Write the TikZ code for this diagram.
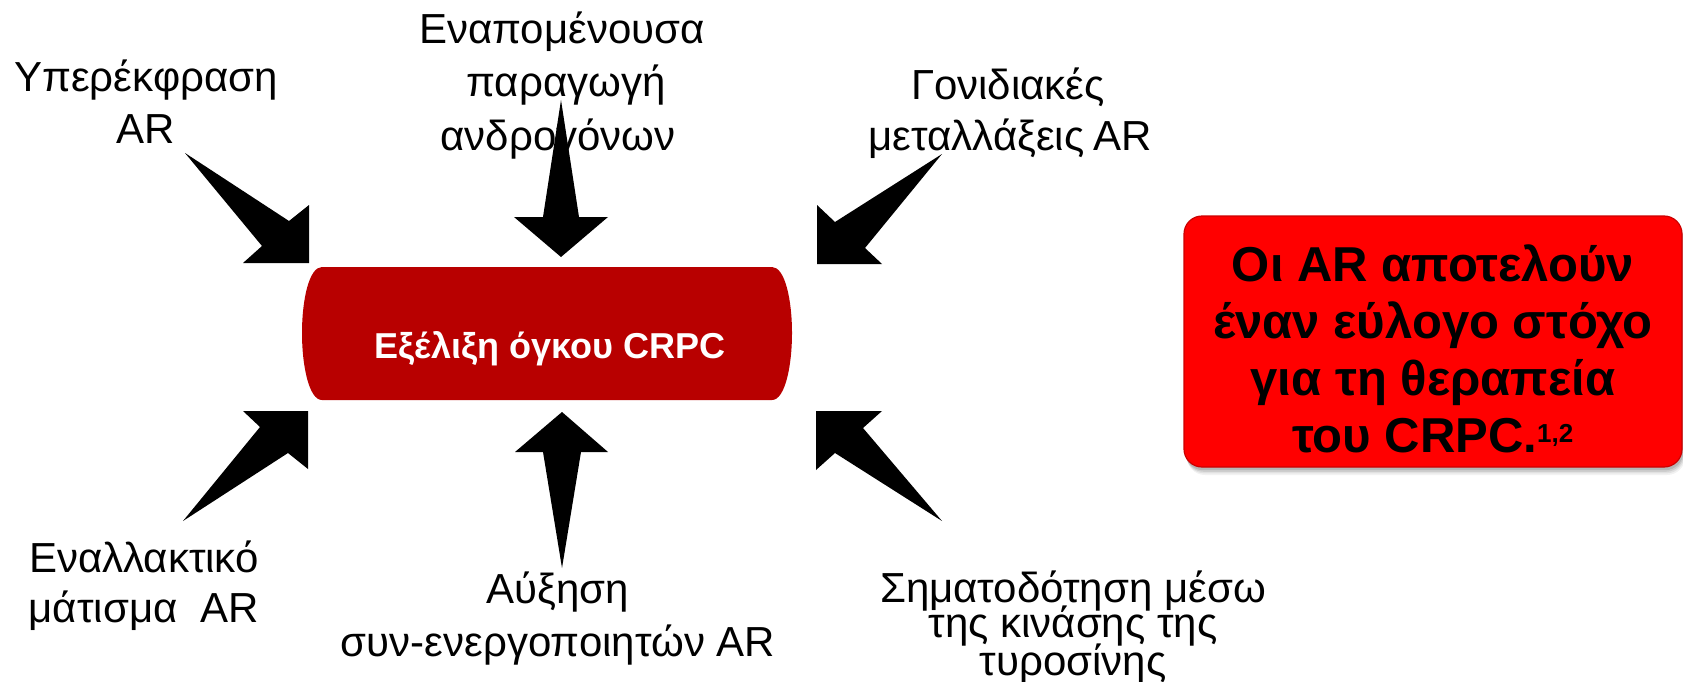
\documentclass[tikz,border=0pt]{standalone}
\usepackage{fontspec}
\setmainfont{Liberation Sans}
\definecolor{coreRed}{RGB}{184,0,0}
\definecolor{boxRed}{RGB}{255,0,0}
\begin{document}
\begin{tikzpicture}[x=1pt,y=-1pt,
  lbl/.style={anchor=base,inner sep=0pt,font=\fontsize{42}{50}\selectfont},
  boxtxt/.style={anchor=base,inner sep=0pt,font=\bfseries\fontsize{49}{57}\selectfont},
  bigarrow/.style={fill=black}]
\useasboundingbox (0,0) rectangle (1683,682);

% labels
\node[lbl] (l1a) at (146,92) {Υπερέκφραση};
\node[lbl] (l1b) at (146,143) {AR};
\node[lbl] (l2a) at (562,44) {Εναπομένουσα};
\node[lbl] (l2b) at (566,97) {παραγωγή};
\node[lbl] (l2c) at (558,150) {ανδρογόνων};
\node[lbl] (l3a) at (1008,100) {Γονιδιακές};
\node[lbl] (l3b) at (1010,150) {μεταλλάξεις\kern-3pt\ AR};
\node[lbl] (l4a) at (144,572) {Εναλλακτικό};
\node[lbl] (l4b) at (144,622) {μάτισμα~ AR};
\node[lbl] (l5a) at (558,603) {Αύξηση};
\node[lbl] (l5b) at (558,656) {συν-ενεργοποιητών AR};
\node[lbl] (l6a) at (1073,602) {Σηματοδότηση μέσω};
\node[lbl] (l6b) at (1073,637) {της κινάσης της};
\node[lbl] (l6c) at (1073,675) {τυροσίνης};

% central box
\fill[coreRed] (322,267) -- (772,267)
  .. controls (785,267) and (792,300) .. (792,333)
  .. controls (792,366) and (785,400) .. (772,400) -- (322,400)
  .. controls (309,400) and (302,366) .. (302,333)
  .. controls (302,300) and (309,267) .. (322,267) -- cycle;
\node[anchor=base,inner sep=0pt,text=white,font=\bfseries\fontsize{36}{40}\selectfont] (core) at (550,358) {Εξέλιξη όγκου CRPC};

% arrows
\fill[bigarrow] (185,153) -- (289,221) -- (309,205) -- (309,263) -- (243,263) -- (262,246) -- cycle;
\fill[bigarrow] (561,100) -- (579,217) -- (608,217) -- (561,257) -- (514,217) -- (543,217) -- cycle;
\fill[bigarrow] (942,154) -- (865,248) -- (882,264) -- (817,264) -- (817,205) -- (835,222) -- cycle;
\fill[bigarrow] (183,521) -- (288,453) -- (308,469) -- (308,411) -- (243,411) -- (260,427) -- cycle;
\fill[bigarrow] (562,568) -- (581,452) -- (608,452) -- (562,412) -- (515,452) -- (543,452) -- cycle;
\fill[bigarrow] (942,521) -- (835,453) -- (816,470) -- (816,411) -- (882,411) -- (863,428) -- cycle;

% right box with shadow
\foreach \o/\a in {10/0.05,8/0.07,6/0.09,4/0.11}
  \fill[black,opacity=\a,rounded corners=18] (1184+\o*0.3,216+\o) rectangle (1682+\o*0.3,467+\o*0.8);
\fill[boxRed,draw=red!80!black,line width=1.2,rounded corners=18] (1184,216) rectangle (1682,467);
\node[boxtxt] (r1) at (1433,281) {Οι AR αποτελούν};
\node[boxtxt] (r2) at (1433,338) {έναν εύλογο στόχο};
\node[boxtxt] (r3) at (1433,395) {για τη θεραπεία};
\node[boxtxt] (r4) at (1433,452) {του CRPC.\textsuperscript{\fontsize{26}{28}\selectfont 1,2}};
\end{tikzpicture}
\end{document}
